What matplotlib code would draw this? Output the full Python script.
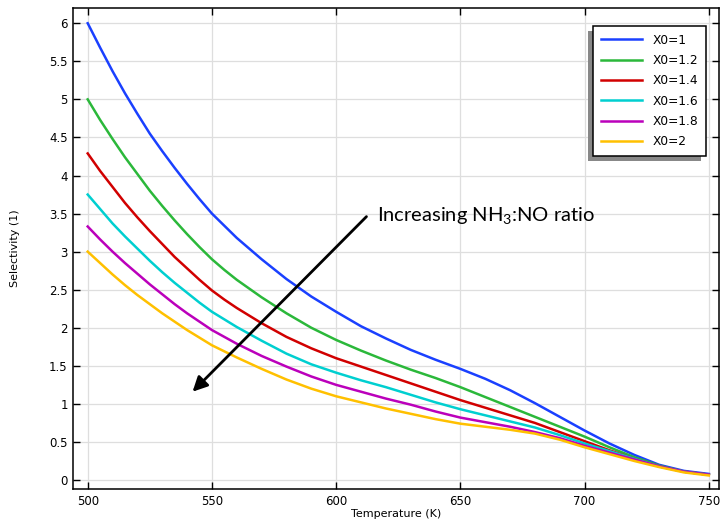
import matplotlib
matplotlib.use("Agg")
import matplotlib.pyplot as plt
from matplotlib.patches import Rectangle

temps = [500, 505, 510, 515, 520, 525, 530, 535, 540, 545, 550, 555, 560,
         570, 580, 590, 600, 610, 620, 630, 640, 650, 660, 670, 680, 690,
         700, 710, 720, 730, 740, 750]
sel_x1 = [6.0, 5.68, 5.37, 5.08, 4.81, 4.55, 4.32, 4.10, 3.89, 3.69, 3.50,
          3.34, 3.18, 2.90, 2.64, 2.41, 2.21, 2.02, 1.86, 1.71, 1.58, 1.46,
          1.33, 1.18, 1.01, 0.83, 0.65, 0.48, 0.33, 0.20, 0.12, 0.08]
sel_x12 = [5.0, 4.73, 4.48, 4.24, 4.02, 3.80, 3.60, 3.41, 3.23, 3.06, 2.90,
           2.76, 2.63, 2.40, 2.19, 2.00, 1.84, 1.70, 1.57, 1.45, 1.34, 1.22,
           1.09, 0.96, 0.83, 0.70, 0.57, 0.43, 0.30, 0.19, 0.11, 0.07]
sel_x14 = [4.29, 4.06, 3.85, 3.64, 3.45, 3.27, 3.10, 2.93, 2.78, 2.63, 2.49,
           2.37, 2.26, 2.06, 1.88, 1.73, 1.60, 1.49, 1.38, 1.27, 1.16, 1.05,
           0.95, 0.85, 0.75, 0.63, 0.51, 0.39, 0.28, 0.18, 0.11, 0.07]
sel_x16 = [3.75, 3.56, 3.37, 3.20, 3.04, 2.88, 2.73, 2.59, 2.46, 2.33, 2.21,
           2.11, 2.01, 1.83, 1.66, 1.52, 1.41, 1.31, 1.22, 1.12, 1.02, 0.93,
           0.85, 0.77, 0.69, 0.59, 0.48, 0.38, 0.28, 0.18, 0.11, 0.07]
sel_x18 = [3.33, 3.16, 3.00, 2.85, 2.71, 2.57, 2.44, 2.31, 2.19, 2.08, 1.97,
           1.88, 1.79, 1.63, 1.49, 1.36, 1.25, 1.16, 1.07, 0.99, 0.90, 0.82,
           0.76, 0.70, 0.63, 0.55, 0.45, 0.36, 0.27, 0.18, 0.11, 0.07]
sel_x2 = [3.0, 2.85, 2.70, 2.56, 2.43, 2.31, 2.19, 2.08, 1.97, 1.87, 1.77,
          1.69, 1.61, 1.46, 1.32, 1.20, 1.10, 1.02, 0.94, 0.87, 0.80, 0.74,
          0.70, 0.66, 0.61, 0.53, 0.43, 0.34, 0.25, 0.17, 0.10, 0.06]

labels = ['X0=1', 'X0=1.2', 'X0=1.4', 'X0=1.6', 'X0=1.8', 'X0=2']
colors = ['#1a40ff', '#2bb83a', '#d10000', '#00cfd0', '#bb00bb', '#ffc000']
series = [sel_x1, sel_x12, sel_x14, sel_x16, sel_x18, sel_x2]

plt.rcParams['mathtext.fontset'] = 'custom'
plt.rcParams['mathtext.rm'] = 'Lato'

fig = plt.figure(figsize=(7.2, 5.24), dpi=100)
ax = fig.add_axes([0.1018, 0.0662, 0.8975, 0.9185])

for ys, lab, c in zip(series, labels, colors):
    ax.plot(temps, ys, color=c, lw=1.8, label=lab)

ax.set_xlim(494.2, 754.3)
ax.set_ylim(-0.122, 6.2)
ax.set_xticks([500, 550, 600, 650, 700, 750])
ax.set_yticks([i * 0.5 for i in range(13)])
ax.set_yticklabels(['%g' % (i * 0.5) for i in range(13)])
ax.grid(True, color='#dedede', lw=0.9)
ax.set_axisbelow(True)
ax.tick_params(direction='in', length=5, width=1, top=True, right=True,
               labelsize=8.5, pad=4)
for s in ax.spines.values():
    s.set_linewidth(1.1)

ax.set_xlabel('Temperature (K)', fontsize=8, labelpad=1)
ax.set_ylabel('Selectivity (1)', fontsize=8, labelpad=21)

leg = ax.legend(loc='upper right', bbox_to_anchor=(0.979, 0.9632),
                borderaxespad=0, fancybox=False, edgecolor='black',
                framealpha=1, fontsize=8.8, handlelength=3.4,
                labelspacing=0.6, borderpad=0.65, handletextpad=0.8)
leg.get_frame().set_linewidth(1.1)

ax.annotate('', xy=(542.2, 1.16), xytext=(612.2, 3.46),
            arrowprops=dict(arrowstyle='-|>', mutation_scale=22, lw=2,
                            color='black', shrinkA=0, shrinkB=0))
ax.text(616.4, 3.47, r'Increasing NH$_\mathregular{3}$:NO ratio',
        fontsize=14.5, family='Lato', va='center', ha='left')

# grey drop shadow behind the legend box (offset left and down)
fig.canvas.draw()
bb = leg.get_window_extent()
shadow = Rectangle((bb.x0 - 5, bb.y0 - 5), bb.width, bb.height,
                   transform=None, facecolor='#888888', edgecolor='none',
                   clip_on=False, zorder=leg.get_zorder() - 0.1)
ax.add_artist(shadow)

fig.savefig('out.png', dpi=100)
